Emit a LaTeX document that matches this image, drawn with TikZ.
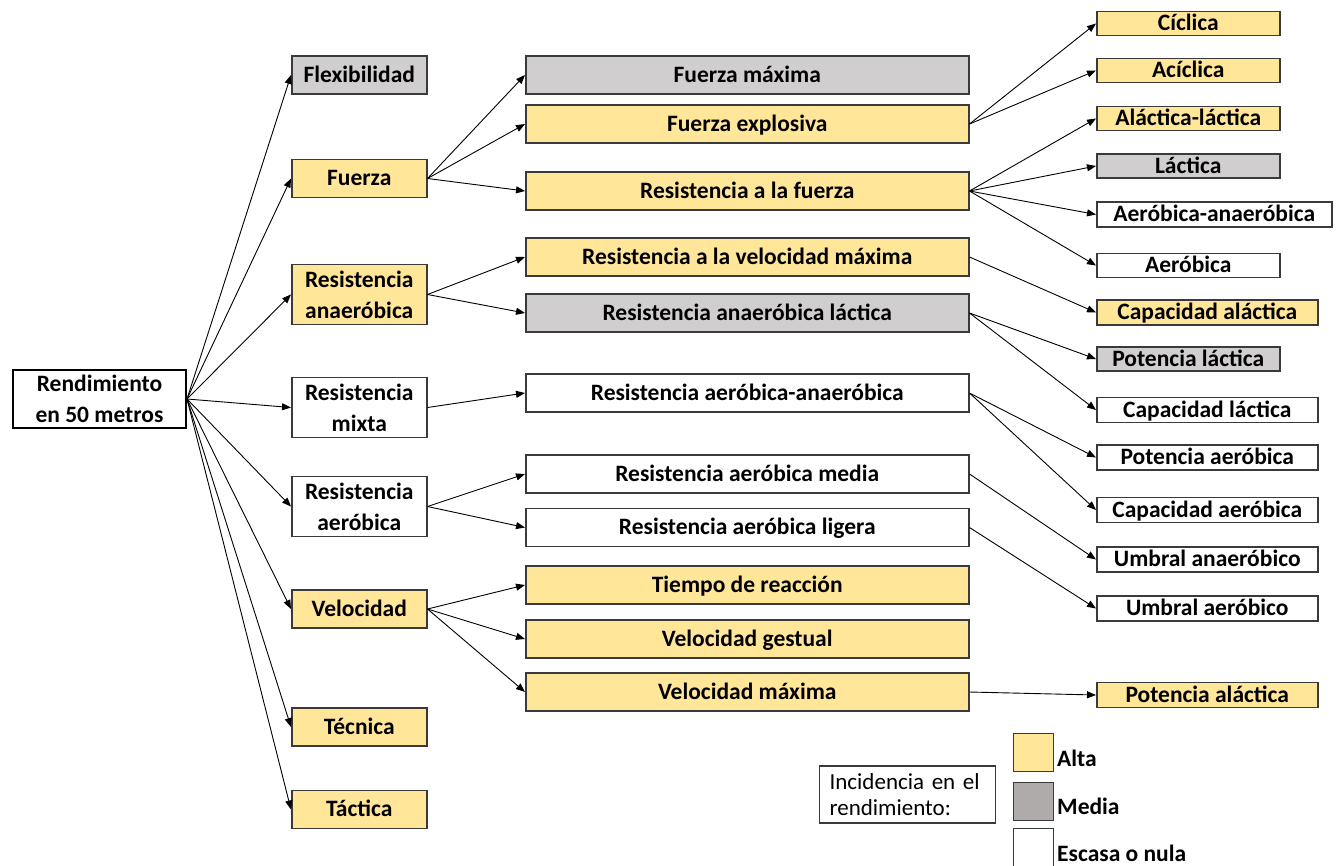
\documentclass[tikz,border=0pt]{standalone}
\usepackage{fontspec}
\setmainfont{Carlito}
\usepackage{xcolor}
\usetikzlibrary{arrows.meta,positioning}
\definecolor{colAlta}{HTML}{FFE699}
\definecolor{colMedia}{HTML}{D0CECE}
\definecolor{colMediaSw}{HTML}{AFABAB}
\definecolor{borde}{HTML}{3A3A3A}

\begin{document}
\begin{tikzpicture}[x=1pt, y=-1pt, >={Triangle[length=9pt,width=7pt]}, font=\fontsize{23.5}{31}\selectfont\bfseries]
    \tikzset{
        a/.style={->, line width=0.9pt},
        bx/.style={draw=borde, line width=1.5pt, inner sep=0pt, text height=16pt, text depth=2pt, anchor=west},
        bxx/.style={draw=borde, line width=1.5pt, inner sep=0pt, align=center, anchor=west},
        alta/.style={fill=colAlta},
        media/.style={fill=colMedia},
        nula/.style={fill=white},
        uno/.style={bx, minimum width=135pt, minimum height=38pt},
        unob/.style={bxx, minimum width=135pt, minimum height=60pt},
        dos/.style={bx, minimum width=443pt, minimum height=38pt},
        tres/.style={bx, minimum width=183pt, minimum height=24pt},
        tresw/.style={bx, minimum width=221pt, minimum height=25pt},
        sw/.style={draw=borde, line width=1.2pt, minimum width=40pt, minimum height=38pt, inner sep=0pt, anchor=north west},
        lab/.style={anchor=west, inner sep=0pt, text height=16pt, text depth=2pt}
    }
    \useasboundingbox (0,0) rectangle (1340,865);

    % raiz
    \node [bxx, draw=black, line width=2pt, minimum width=173pt, minimum height=58pt] (rend) at (12,399) {Rendimiento\\en 50 metros};

    % primer nivel
    \node [uno, media] (flex) at (291,75) {Flexibilidad};
    \node [uno, alta] (fuerza) at (291,178.5) {Fuerza};
    \node [unob, alta] (ranaer) at (291,294.5) {Resistencia\\anaeróbica};
    \node [unob, nula] (rmixta) at (291,407.5) {Resistencia\\mixta};
    \node [unob, nula] (raer) at (291,506.5) {Resistencia\\aeróbica};
    \node [uno, alta] (vel) at (291,609) {Velocidad};
    \node [uno, alta] (tec) at (291,727) {Técnica};
    \node [uno, alta] (tac) at (291,809.5) {Táctica};

    \draw [a] (rend.east) -- (flex.west);
    \draw [a] (rend.east) -- (fuerza.west);
    \draw [a] (rend.east) -- (ranaer.west);
    \draw [a] (rend.east) -- (rmixta.west);
    \draw [a] (rend.east) -- (raer.west);
    \draw [a] (rend.east) -- (vel.west);
    \draw [a] (rend.east) -- (tec.west);
    \draw [a] (rend.east) -- (tac.west);

    % segundo nivel
    \node [dos, media] (fmax) at (525,75) {Fuerza máxima};
    \node [dos, alta] (fexp) at (525,124) {Fuerza explosiva};
    \node [dos, alta] (rfue) at (525,191) {Resistencia a la fuerza};
    \node [dos, alta] (rvmax) at (525,257) {Resistencia a la velocidad máxima};
    \node [dos, media] (ranlac) at (525,313) {Resistencia anaeróbica láctica};
    \node [dos, nula] (raean) at (525,393) {Resistencia aeróbica-anaeróbica};
    \node [dos, nula] (raemed) at (525,474) {Resistencia aeróbica media};
    \node [dos, nula] (raelig) at (525,527.5) {Resistencia aeróbica ligera};
    \node [dos, alta] (treac) at (525,585) {Tiempo de reacción};
    \node [dos, alta] (vges) at (525,639) {Velocidad gestual};
    \node [dos, alta] (vmax) at (525,692) {Velocidad máxima};

    \draw [a] (fuerza.east) -- (fmax.west);
    \draw [a] (fuerza.east) -- (fexp.west);
    \draw [a] (fuerza.east) -- (rfue.west);
    \draw [a] (ranaer.east) -- (rvmax.west);
    \draw [a] (ranaer.east) -- (ranlac.west);
    \draw [a] (rmixta.east) -- (raean.west);
    \draw [a] (raer.east) -- (raemed.west);
    \draw [a] (raer.east) -- (raelig.west);
    \draw [a] (vel.east) -- (treac.west);
    \draw [a] (vel.east) -- (vges.west);
    \draw [a] (vel.east) -- (vmax.west);

    % tercer nivel
    \node [tres, alta] (cic) at (1096,23.5) {Cíclica};
    \node [tres, alta] (acic) at (1096,70.5) {Acíclica};
    \node [tres, alta] (alalac) at (1096,118.5) {Aláctica-láctica};
    \node [tres, media] (lac) at (1096,166) {Láctica};
    \node [tresw, nula, minimum width=235pt] (aeran) at (1096,214.5) {Aeróbica-anaeróbica};
    \node [tres, nula] (aer) at (1096,265.5) {Aeróbica};
    \node [tresw, alta] (capalac) at (1096,312.5) {Capacidad aláctica};
    \node [tres, media] (potlac) at (1096,359) {Potencia láctica};
    \node [tresw, nula] (caplac) at (1096,410) {Capacidad láctica};
    \node [tresw, nula] (potaer) at (1096,457.5) {Potencia aeróbica};
    \node [tresw, nula] (capaer) at (1096,510) {Capacidad aeróbica};
    \node [tresw, nula] (umban) at (1096,559.5) {Umbral anaeróbico};
    \node [tresw, nula] (umbae) at (1096,608.5) {Umbral aeróbico};
    \node [tresw, alta] (potalac) at (1096,695) {Potencia aláctica};

    \draw [a] (fexp.east) -- (cic.west);
    \draw [a] (fexp.east) -- (acic.west);
    \draw [a] (rfue.east) -- (alalac.west);
    \draw [a] (rfue.east) -- (lac.west);
    \draw [a] (rfue.east) -- (aeran.west);
    \draw [a] (rfue.east) -- (aer.west);
    \draw [a] (rvmax.east) -- (capalac.west);
    \draw [a] (ranlac.east) -- (potlac.west);
    \draw [a] (ranlac.east) -- (caplac.west);
    \draw [a] (raean.east) -- (potaer.west);
    \draw [a] (raean.east) -- (capaer.west);
    \draw [a] (raemed.east) -- (umban.west);
    \draw [a] (raelig.east) -- (umbae.west);
    \draw [a] (vmax.east) -- (potalac.west);

    % leyenda
    \node [draw=borde, line width=1.2pt, anchor=west, inner xsep=10pt, inner ysep=0pt, text width=156pt, align=left, minimum height=57pt, font=\fontsize{23}{26}\selectfont] (incid) at (819,794.5) {Incidencia en el\\rendimiento:};
    \node [sw, fill=colAlta] (swalta) at (1013,733) {};
    \node [sw, fill=colMediaSw] (swmedia) at (1013,781.5) {};
    \node [sw, fill=white, minimum height=42pt] (swnula) at (1013,828) {};
    \node [lab] (lalta) at (1057,759) {Alta};
    \node [lab] (lmedia) at (1057,807) {Media};
    \node [lab] (lnula) at (1057,854) {Escasa o nula};
\end{tikzpicture}
\end{document}
